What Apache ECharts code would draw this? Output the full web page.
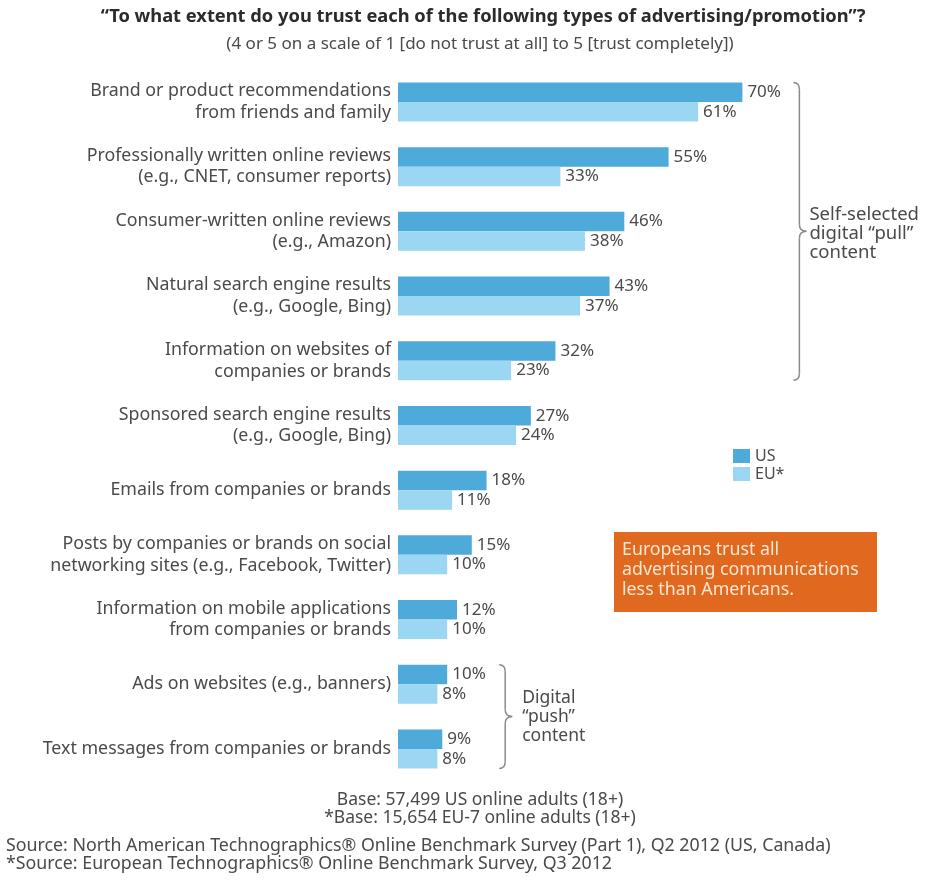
<!DOCTYPE html>
<html>
<head>
<meta charset="utf-8">
<script src="https://cdn.jsdelivr.net/npm/echarts@6/dist/echarts.min.js"></script>
<style>
  html, body { margin: 0; padding: 0; background: #ffffff; }
  #chart { width: 928px; height: 880px; }
</style>
</head>
<body>
<div id="chart"></div>
<script>
// Survey categories (top to bottom)
const categories = [
  'Brand or product recommendations\nfrom friends and family',
  'Professionally written online reviews\n(e.g., CNET, consumer reports)',
  'Consumer-written online reviews\n(e.g., Amazon)',
  'Natural search engine results\n(e.g., Google, Bing)',
  'Information on websites of\ncompanies or brands',
  'Sponsored search engine results\n(e.g., Google, Bing)',
  'Emails from companies or brands',
  'Posts by companies or brands on social\nnetworking sites (e.g., Facebook, Twitter)',
  'Information on mobile applications\nfrom companies or brands',
  'Ads on websites (e.g., banners)',
  'Text messages from companies or brands'
];
// Share trusting each type (4 or 5 on a 5-point scale), percent
const usValues = [70, 55, 46, 43, 32, 27, 18, 15, 12, 10, 9];
const euValues = [61, 33, 38, 37, 23, 24, 11, 10, 10, 8, 8];
const seriesNames = ['US', 'EU*'];

const titleText = '\u201cTo what extent do you trust each of the following types of advertising/promotion\u201d?';
const subtitleText = '(4 or 5 on a scale of 1 [do not trust at all] to 5 [trust completely])';
const pullGroupText = 'Self-selected\ndigital \u201cpull\u201d\ncontent';
const pushGroupText = 'Digital\n\u201cpush\u201d\ncontent';
const calloutText = 'Europeans trust all\nadvertising communications\nless than Americans.';
const baseNotes = 'Base: 57,499 US online adults (18+)\n*Base: 15,654 EU-7 online adults (18+)';
const sourceNotes = 'Source: North American Technographics\u00ae Online Benchmark Survey (Part 1), Q2 2012 (US, Canada)\n*Source: European Technographics\u00ae Online Benchmark Survey, Q3 2012';

const FONT = '"Noto Sans", "Open Sans", sans-serif';
const TEXT = '#4a4a4a';
const US_COLOR = '#4eaad9';
const EU_COLOR = '#9bd6f2';
const BRACE = '#8a8a8a';

const chart = echarts.init(document.getElementById('chart'), null, { renderer: 'canvas' });

const valueLabel = {
  show: true,
  position: 'right',
  distance: 5,
  formatter: '{c}%',
  color: TEXT,
  fontFamily: FONT,
  fontSize: 17
};

chart.setOption({
  animation: false,
  backgroundColor: '#ffffff',
  textStyle: { fontFamily: FONT },
  grid: { left: 398, width: 492, top: 69.6, height: 711.7, containLabel: false },
  legend: {
    data: seriesNames,
    orient: 'vertical',
    left: 728,
    top: 443,
    icon: 'rect',
    itemWidth: 17,
    itemHeight: 14,
    itemGap: 2,
    selectedMode: false,
    textStyle: { color: TEXT, fontFamily: FONT, fontSize: 16 }
  },
  xAxis: {
    type: 'value',
    min: 0,
    max: 100,
    show: false
  },
  yAxis: {
    type: 'category',
    data: categories,
    inverse: true,
    axisLine: { show: false },
    axisTick: { show: false },
    splitLine: { show: false },
    axisLabel: {
      color: TEXT,
      fontFamily: FONT,
      fontSize: 17.8,
      lineHeight: 21.5,
      margin: 7,
      align: 'right'
    }
  },
  series: [
    {
      name: seriesNames[0],
      type: 'bar',
      data: usValues,
      barWidth: 19.5,
      barGap: '0%',
      itemStyle: { color: US_COLOR },
      label: valueLabel
    },
    {
      name: seriesNames[1],
      type: 'bar',
      data: euValues,
      barWidth: 19.5,
      barGap: '0%',
      itemStyle: { color: EU_COLOR },
      label: valueLabel
    }
  ]
});

// Curly brace "}" built from straight and quadratic segments, tip pointing right
function braceParts(x, y1, y2) {
  const hook = 6, r = 7, tip = 7;
  const ym = (y1 + y2) / 2;
  const st = { stroke: BRACE, lineWidth: 1.5, fill: null };
  const curve = (a, b, c, d, e, f) => ({
    type: 'bezierCurve',
    shape: { x1: a, y1: b, cpx1: c, cpy1: d, x2: e, y2: f },
    style: st
  });
  const line = (a, b, c, d) => ({
    type: 'line',
    shape: { x1: a, y1: b, x2: c, y2: d },
    style: st
  });
  return [
    curve(x - hook, y1, x, y1, x, y1 + r),
    line(x, y1 + r, x, ym - r),
    curve(x, ym - r, x, ym, x + tip, ym),
    curve(x + tip, ym, x, ym, x, ym + r),
    line(x, ym + r, x, y2 - r),
    curve(x, y2 - r, x, y2, x - hook, y2)
  ];
}

const half = 19.5;
const catY = i => chart.convertToPixel({ yAxisIndex: 0 }, i);
const valX = v => chart.convertToPixel({ xAxisIndex: 0 }, v);

// pull group: first five categories; push group: last two
const pullTop = catY(0) - half, pullBottom = catY(4) + half;
const pushTop = catY(9) - half, pushBottom = catY(10) + half;
const pullX = valX(usValues[0]) + 57;
const pushX = valX(usValues[9]) + 58;

chart.setOption({
  graphic: [
    {
      type: 'text', x: 483, y: 17,
      style: { text: titleText, fill: '#2b2b2b', font: 'bold 18.3px ' + FONT, textAlign: 'center', textVerticalAlign: 'middle' }
    },
    {
      type: 'text', x: 480, y: 44,
      style: { text: subtitleText, fill: TEXT, font: '17px ' + FONT, textAlign: 'center', textVerticalAlign: 'middle' }
    },
    ...braceParts(pullX, pullTop, pullBottom),
    {
      type: 'text', x: pullX + 10, y: (pullTop + pullBottom) / 2 + 2,
      style: { text: pullGroupText, fill: TEXT, font: '18.5px ' + FONT, lineHeight: 19, textVerticalAlign: 'middle' }
    },
    ...braceParts(pushX, pushTop, pushBottom),
    {
      type: 'text', x: pushX + 17, y: (pushTop + pushBottom) / 2,
      style: { text: pushGroupText, fill: TEXT, font: '17.5px ' + FONT, lineHeight: 19, textVerticalAlign: 'middle' }
    },
    {
      type: 'rect', shape: { x: 614, y: 532, width: 263, height: 80 },
      style: { fill: '#e0691f' }
    },
    {
      type: 'text', x: 622, y: 570,
      style: { text: calloutText, fill: '#fbe6d2', font: '17.8px ' + FONT, lineHeight: 20, textVerticalAlign: 'middle' }
    },
    {
      type: 'text', x: 480, y: 809,
      style: { text: baseNotes, fill: TEXT, font: '17.5px ' + FONT, lineHeight: 18, textAlign: 'center', textVerticalAlign: 'middle' }
    },
    {
      type: 'text', x: 6, y: 855,
      style: { text: sourceNotes, fill: TEXT, font: '17.8px ' + FONT, lineHeight: 18.5, textVerticalAlign: 'middle' }
    }
  ]
});
</script>
</body>
</html>
